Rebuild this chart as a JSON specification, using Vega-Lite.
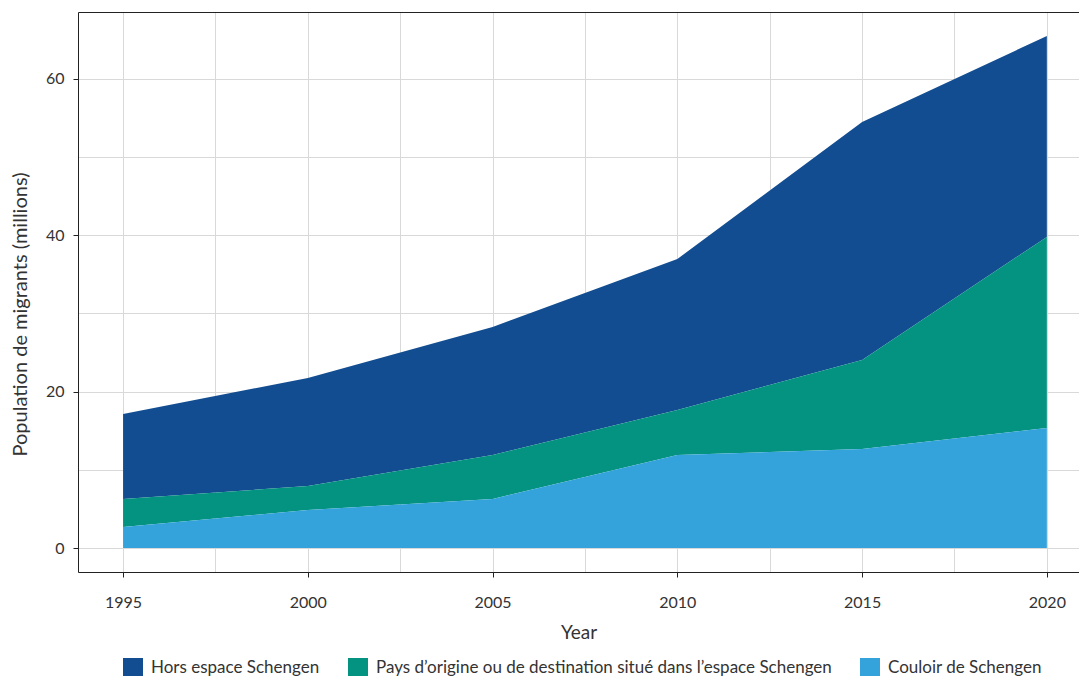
{
  "$schema": "https://vega.github.io/schema/vega-lite/v6.json",
  "autosize": "none",
  "width": 1001,
  "height": 560,
  "padding": {"left": 78, "top": 12, "right": 0, "bottom": 104},
  "background": "white",
  "config": {
    "font": "Lato",
    "view": {"stroke": null},
    "axis": {
      "labelFont": "Lato",
      "titleFont": "Lato",
      "labelFontSize": 16,
      "titleFontSize": 19,
      "labelColor": "#333333",
      "titleColor": "#333333",
      "titleFontWeight": "normal",
      "gridColor": "#d9d9d9",
      "gridWidth": 1,
      "domainColor": "#222222",
      "tickColor": "#222222",
      "tickSize": 5
    },
    "legend": {
      "labelFont": "Lato",
      "labelFontSize": 17,
      "labelColor": "#333333",
      "labelLimit": 0
    }
  },
  "data": {
    "values": [
      {"year": 1995, "series": "Hors espace Schengen", "stack": 3, "value": 10.87},
      {"year": 2000, "series": "Hors espace Schengen", "stack": 3, "value": 13.82},
      {"year": 2005, "series": "Hors espace Schengen", "stack": 3, "value": 16.37},
      {"year": 2010, "series": "Hors espace Schengen", "stack": 3, "value": 19.32},
      {"year": 2015, "series": "Hors espace Schengen", "stack": 3, "value": 30.45},
      {"year": 2020, "series": "Hors espace Schengen", "stack": 3, "value": 25.7},
      {"year": 1995, "series": "Pays d’origine ou de destination situé dans l’espace Schengen", "stack": 2, "value": 3.58},
      {"year": 2000, "series": "Pays d’origine ou de destination situé dans l’espace Schengen", "stack": 2, "value": 3.07},
      {"year": 2005, "series": "Pays d’origine ou de destination situé dans l’espace Schengen", "stack": 2, "value": 5.63},
      {"year": 2010, "series": "Pays d’origine ou de destination situé dans l’espace Schengen", "stack": 2, "value": 5.75},
      {"year": 2015, "series": "Pays d’origine ou de destination situé dans l’espace Schengen", "stack": 2, "value": 11.39},
      {"year": 2020, "series": "Pays d’origine ou de destination situé dans l’espace Schengen", "stack": 2, "value": 24.45},
      {"year": 1995, "series": "Couloir de Schengen", "stack": 1, "value": 2.69},
      {"year": 2000, "series": "Couloir de Schengen", "stack": 1, "value": 4.86},
      {"year": 2005, "series": "Couloir de Schengen", "stack": 1, "value": 6.27},
      {"year": 2010, "series": "Couloir de Schengen", "stack": 1, "value": 11.9},
      {"year": 2015, "series": "Couloir de Schengen", "stack": 1, "value": 12.66},
      {"year": 2020, "series": "Couloir de Schengen", "stack": 1, "value": 15.35}
    ]
  },
  "layer": [
    {
      "mark": {"type": "area", "opacity": 1},
      "encoding": {
        "x": {
          "field": "year",
          "type": "quantitative",
          "scale": {"domain": [1993.78, 2020.87], "nice": false, "zero": false},
          "axis": {
            "values": [1995, 2000, 2005, 2010, 2015, 2020],
            "format": "d",
            "title": "Year",
            "labelPadding": 17,
            "titlePadding": 13,
            "grid": true
          }
        },
        "y": {
          "field": "value",
          "type": "quantitative",
          "stack": "zero",
          "scale": {"domain": [-3.07, 68.57], "nice": false, "zero": false},
          "axis": {
            "values": [0, 20, 40, 60],
            "title": "Population de migrants (millions)",
            "labelPadding": 9,
            "titleFontSize": 20,
            "titleX": -58,
            "titleY": 302,
            "titleAnchor": "middle",
            "titleBaseline": "middle",
            "titleAlign": "center",
            "grid": true
          }
        },
        "color": {
          "field": "series",
          "type": "nominal",
          "scale": {
            "domain": ["Hors espace Schengen", "Pays d’origine ou de destination situé dans l’espace Schengen", "Couloir de Schengen"],
            "range": ["#134d91", "#049381", "#34a3dc"]
          },
          "legend": {
            "title": null,
            "orient": "none",
            "direction": "horizontal",
            "legendX": 45,
            "legendY": 646,
            "symbolType": "square",
            "symbolSize": 400,
            "symbolStrokeWidth": 0,
            "symbolOpacity": 1,
            "labelOffset": 8,
            "columnPadding": 28
          }
        },
        "order": {"field": "stack", "type": "quantitative", "sort": "ascending"}
      }
    },
    {
      "mark": {"type": "line", "opacity": 0},
      "encoding": {
        "x": {
          "field": "year",
          "type": "quantitative",
          "axis": {
            "orient": "top",
            "values": [1997.5, 2002.5, 2007.5, 2012.5, 2017.5],
            "labels": false,
            "ticks": false,
            "title": null,
            "grid": true
          }
        },
        "y": {
          "field": "value",
          "type": "quantitative",
          "axis": {
            "orient": "right",
            "values": [10, 30, 50],
            "labels": false,
            "ticks": false,
            "domain": false,
            "title": null,
            "grid": true
          }
        },
        "detail": {"field": "series", "type": "nominal"}
      }
    }
  ],
  "resolve": {"axis": {"x": "independent", "y": "independent"}}
}
